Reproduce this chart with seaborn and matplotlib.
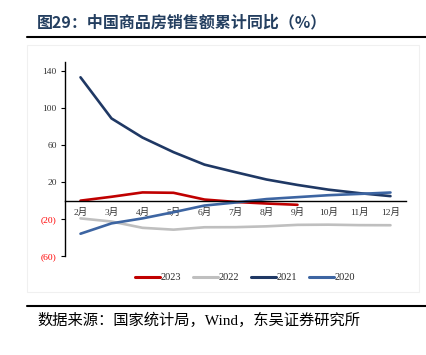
import numpy as np
import pandas as pd
import matplotlib
matplotlib.use("Agg")
import matplotlib.pyplot as plt
import seaborn as sns
from matplotlib.ticker import FixedLocator

# 数据：商品房销售额累计同比（%）
months = ["2月", "3月", "4月", "5月", "6月", "7月", "8月", "9月", "10月", "11月", "12月"]
y2023 = [-0.1, 4.1, 8.8, 8.4, 1.1, -1.5, -3.2, -4.6]
y2022 = [-19.3, -22.7, -29.5, -31.5, -28.9, -28.8, -27.9, -26.3, -26.1, -26.6, -26.7]
y2021 = [133.4, 88.9, 68.2, 52.4, 38.9, 30.7, 22.8, 16.9, 11.8, 8.0, 4.8]
y2020 = [-35.9, -24.7, -19.3, -12.6, -5.4, -2.1, 1.6, 3.7, 5.8, 7.2, 8.7]
series = {"2023": y2023, "2022": y2022, "2021": y2021, "2020": y2020}
colors = {"2023": "#C00000", "2022": "#BFBFBF", "2021": "#1F3864", "2020": "#3D65A2"}
yticks = [-60, -20, 20, 60, 100, 140]

rows = []
for name, vals in series.items():
    for i, v in enumerate(vals):
        rows.append({"month": i, "value": v, "year": name})
df = pd.DataFrame(rows)

sns.set_style("white")
plt.rcParams["font.family"] = ["Liberation Serif", "Noto Sans CJK SC"]

fig = plt.figure(figsize=(4.26, 3.55), dpi=100)
ax = fig.add_axes([0.1526, 0.2789, 0.8004, 0.5465])

sns.lineplot(data=df, x="month", y="value", hue="year", palette=colors,
             hue_order=list(series.keys()), sort=False, linewidth=1.9,
             ax=ax, legend=False)

ax.set_xlim(-0.5, 10.5)
ax.set_ylim(-60, 150)
ax.set_xlabel("")
ax.set_ylabel("")

# x axis sits on zero
for s in ["top", "right"]:
    ax.spines[s].set_visible(False)
ax.spines["bottom"].set_position(("data", 0))
ax.spines["bottom"].set_color("black")
ax.spines["bottom"].set_linewidth(1.0)
ax.spines["left"].set_color("black")
ax.spines["left"].set_linewidth(1.0)

ax.set_xticks(range(len(months)))
ax.set_xticklabels(months, fontsize=6.8, color="#333333")
ax.xaxis.set_minor_locator(FixedLocator(np.arange(-0.5, 10.6, 1.0)))
ax.tick_params(axis="x", which="major", length=0, pad=5)
ax.tick_params(axis="x", which="minor", length=2.5, direction="out", width=0.8, color="black")

ax.set_yticks(yticks)
ax.set_yticklabels([f"({abs(t)})" if t < 0 else str(t) for t in yticks], fontsize=6.8)
for lbl, t in zip(ax.get_yticklabels(), yticks):
    lbl.set_color("#FF0000" if t < 0 else "#333333")
ax.tick_params(axis="y", length=3, direction="out", width=0.8, color="black", pad=3, left=True)

# legend
handles = [plt.Line2D([], [], color=colors[k], lw=2.2) for k in series]
fig.legend(handles, list(series.keys()), loc="center", bbox_to_anchor=(0.575, 0.218),
           ncol=4, frameon=False, fontsize=7.5, handlelength=2.4, handletextpad=0.1,
           columnspacing=1.1)

# title, rules and source
fig.text(0.087, 0.938, "图29：中国商品房销售额累计同比（%）", fontsize=11.5, fontweight="bold",
         color="#243F60", va="center", ha="left", family=["Noto Sans CJK SC"])
fig.add_artist(plt.Line2D([0.063, 1.0], [0.896, 0.896], color="black", lw=1.5))
fig.add_artist(plt.Line2D([0.063, 1.0], [0.138, 0.138], color="black", lw=1.5))
fig.add_artist(plt.Rectangle((0.063, 0.177), 0.92, 0.695, fill=False, ec="#F0F0F0", lw=0.8))
fig.text(0.087, 0.099, "数据来源：国家统计局，Wind，东吴证券研究所", fontsize=11,
         color="black", va="center", ha="left")

fig.savefig("out.png", dpi=100)
